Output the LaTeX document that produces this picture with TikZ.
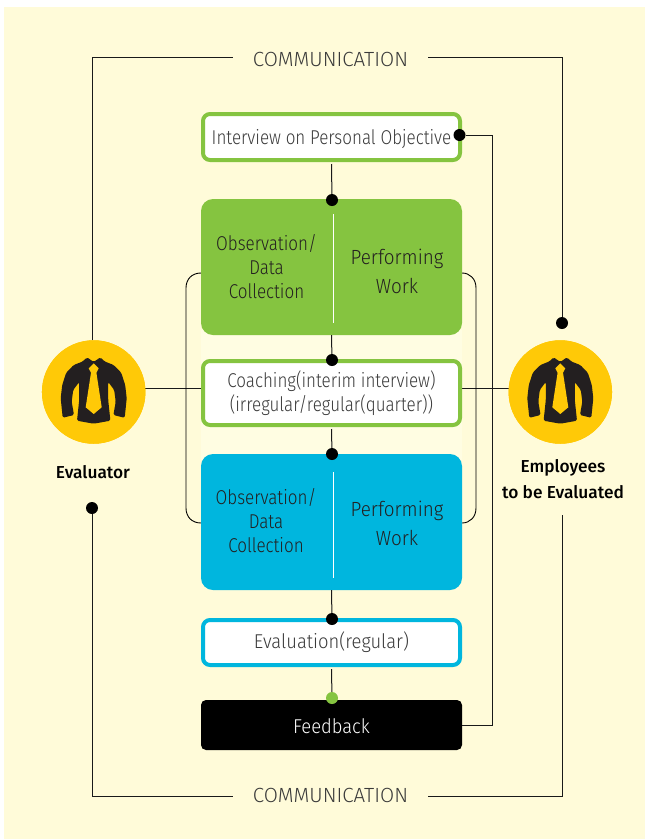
\documentclass[tikz,border=0pt]{standalone}
\usepackage{fontspec}
\setmainfont[FakeStretch=0.85]{Fira Sans Light}
\newfontfamily\widerlt[FakeStretch=0.92]{Fira Sans Light}
\newfontfamily\fulllt{Fira Sans Light}
\newfontfamily\boldlab{Fira Sans Medium}
\definecolor{cream}{HTML}{FFFBD9}
\definecolor{band}{HTML}{FFFDE2}
\definecolor{grn}{HTML}{85C440}
\definecolor{blu}{HTML}{00B6DE}
\definecolor{gold}{HTML}{FFC907}
\definecolor{shirt}{HTML}{231F20}
\definecolor{txt}{HTML}{3A3A3A}
\tikzset{
  x=1pt,y=-1pt,
  conn/.style={line width=1pt,draw=black!90},
  curvy/.style={line width=0.9pt,draw=black},
  outlinebox/.style={draw=#1,line width=4pt,fill=white,rounded corners=7pt,minimum width=257pt,inner sep=0pt,align=center,text=txt,font=\fontsize{20}{24}\selectfont},
  solidbox/.style={fill=#1,rounded corners=12pt,minimum width=261pt,minimum height=136pt,inner sep=0pt},
  dot/.style={circle,fill=#1,minimum size=12pt,inner sep=0pt},
  inner/.style={align=center,font=\fontsize{20}{24}\selectfont,text=#1,inner sep=0pt},
  perf/.style={align=center,font=\widerlt\fontsize{20.5}{28.5}\selectfont,text=#1,inner sep=0pt},
  commlabel/.style={minimum width=195pt,minimum height=20pt,inner sep=0pt,text=txt,font=\fulllt\fontsize{20.5}{22}\selectfont},
  badge/.style={circle,fill=gold,minimum size=103.5pt,inner sep=0pt},
  person/.style={align=center,inner sep=0pt,text=black,font=\boldlab\fontsize{17.3}{26}\selectfont},
  jacket/.pic={
    \fill[shirt,rounded corners=1.5pt] (-6.7,-34.7) -- (0,-30) -- (6.7,-34.7) -- (11,-30.5) -- (20,-27) -- (27.5,-19.3) -- (31.5,-7) -- (33,6.3) -- (31,25.8) -- (19.7,23) -- (22,9.7) -- (20.5,-2) -- (14.5,-10) -- (14.5,8) -- (16.7,28.7) -- (0,31.7) -- (-16.7,28.7) -- (-14.5,8) -- (-14.5,-10) -- (-20.5,-2) -- (-22,9.7) -- (-19.7,23) -- (-31,25.8) -- (-33,6.3) -- (-31.5,-7) -- (-27.5,-19.3) -- (-20,-27) -- (-11,-30.5) -- cycle;
    \fill[gold] (0,-28.7) -- (5,-23.7) -- (2.7,-19.3) -- (8,15.3) -- (0,22) -- (-8,15.3) -- (-2.7,-19.3) -- (-5,-23.7) -- cycle;
  }
}
\begin{document}
\begin{tikzpicture}
\useasboundingbox (0,0) rectangle (645,839);
\fill[white] (0,0) rectangle (645,839);
\fill[cream] (4,7) rectangle (645,839);
\fill[band] (201,330) rectangle (462,460);

\coordinate (tl) at (92,57);
\coordinate (tr) at (562,57);
\coordinate (bl) at (92,796);
\coordinate (br) at (562,796);
\coordinate (rail) at (492,135);
\coordinate (empbottom) at (562,515);
\coordinate (midh) at (0,388);

\node[commlabel] (commtop) at (330.5,59) {COMMUNICATION};
\node[commlabel] (commbot) at (330.5,795.5) {COMMUNICATION};
\node[badge] (evalc) at (93.7,392) {};
\node[badge] (empc) at (560.3,392) {};
\node[person] (evallab) at (93,472.5) {Evaluator};
\node[person] (emplab) at (563,479.5) {Employees\\to be Evaluated};
\node[dot=black] (dtr) at (562,323) {};
\node[dot=black] (dbl) at (92,508) {};

\draw[conn] (evalc.center |- midh) -- (empc.center |- midh);
\draw[curvy] (201,273) .. controls (192,273) and (186,279) .. (186,288) -- (186,508) .. controls (186,517) and (192,523) .. (201,523);
\draw[curvy] (462,273) .. controls (470,273) and (476,279) .. (476,288) -- (476,508) .. controls (476,517) and (470,523) .. (462,523);
\node[badge] at (evalc.center) {};
\node[badge] at (empc.center) {};
\pic at (evalc.center) {jacket};
\pic at (empc.center) {jacket};

\node[outlinebox=grn,minimum height=46pt] (interview) at (331.5,137) {\raisebox{0pt}[15pt][0pt]{Interview on Personal Objective}};
\node[solidbox=grn] (greenbox) at (331.5,267) {};
\node[outlinebox=grn,minimum height=64pt] (coaching) at (331.5,393) {\rule{0pt}{17pt}Coaching(interim interview)\\(irregular/regular(quarter))};
\node[solidbox=blu] (bluebox) at (331.5,522) {};
\node[outlinebox=blu,minimum height=45pt,font=\widerlt\fontsize{20}{24}\selectfont] (evaluation) at (331.5,642.5) {\rule{0pt}{17pt}Evaluation(regular)};
\node[fill=black,rounded corners=5pt,minimum width=261pt,minimum height=50pt,inner sep=0pt,text=white,font=\widerlt\fontsize{20}{24}\selectfont] (feedback) at (331.5,725) {\rule{0pt}{17pt}Feedback};

\node[inner=shirt] (obs1) at (266.5,267) {Observation/\\Data\\Collection};
\node[perf=shirt] (perf1) at (397,271.5) {Performing\\Work};
\node[inner=shirt] (obs2) at (266,521) {Observation/\\Data\\Collection};
\node[perf=shirt] (perf2) at (397,523.5) {Performing\\Work};
\draw[white,line width=1pt] (333,214) -- (333,323);
\draw[white,line width=1pt] (333,472) -- (333,578);

\node[dot=black] (d1) at (332,200) {};
\node[dot=black] (d2) at (332,360) {};
\node[dot=black] (d3) at (332,454) {};
\node[dot=black] (d4) at (332,619) {};
\node[dot=grn] (d5) at (332,698) {};
\node[dot=black] (d6) at (459.5,135) {};

\draw[conn] (interview.south) ++(0,2) -- (d1);
\draw[conn] (greenbox.south) -- (d2);
\draw[conn] (coaching.south) ++(0,2) -- (d3);
\draw[conn] (bluebox.south) -- (d4);
\draw[conn] (evaluation.south) ++(0,2) -- (d5);
\draw[conn] (d6) -- (rail) -- (rail |- feedback.east) -- (feedback.east);
\draw[conn] (tl |- evalc.north) -- (tl) -- (commtop.west |- tl);
\draw[conn] (commtop.east |- tr) -- (tr) -- (dtr);
\draw[conn] (dbl) -- (bl) -- (commbot.west |- bl);
\draw[conn] (commbot.east |- br) -- (br) -- (empbottom);
\end{tikzpicture}
\end{document}
